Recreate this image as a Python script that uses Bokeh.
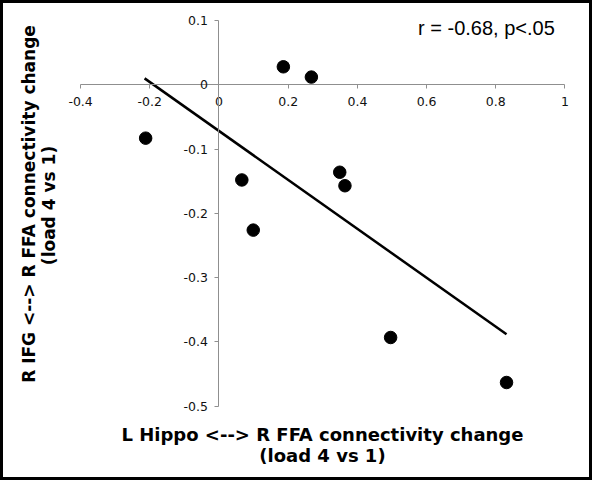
from bokeh.plotting import figure
from bokeh.models import LinearAxis, FixedTicker, CustomJSTickFormatter, Range1d
from bokeh.core.properties import value
from bokeh.embed import file_html
from bokeh.resources import INLINE
import math

# ---- data ----
hippo_ffa = [0.186, 0.267, 0.066, 0.099, 0.349, 0.364, -0.212, 0.496, 0.831]
ifg_ffa = [0.028, 0.012, -0.148, -0.226, -0.136, -0.157, -0.083, -0.393, -0.463]
fit_x = [-0.215, 0.831]
fit_y = [0.010, -0.388]
x_ticks = [-0.4, -0.2, 0, 0.2, 0.4, 0.6, 0.8, 1]
y_ticks = [-0.5, -0.4, -0.3, -0.2, -0.1, 0, 0.1]
stat_text = "r = -0.68, p<.05"
x_title = ["L Hippo <--> R FFA connectivity change", "(load 4 vs 1)"]
y_title = ["R IFG <--> R FFA connectivity change", "(load 4 vs 1)"]

W, H = 592, 480
p = figure(width=W, height=H, output_backend="svg", toolbar_location=None,
           x_axis_type=None, y_axis_type=None, min_border=0,
           x_range=Range1d(-0.6315, 1.0795), y_range=Range1d(-0.6154, 0.1311))
p.outline_line_color = "black"
p.outline_line_width = 5
p.background_fill_color = "white"

fmt = CustomJSTickFormatter(code="return String(+tick.toFixed(1));")
axis_col = "#8f8f8f"

xa = LinearAxis(fixed_location=0, bounds=(min(x_ticks), max(x_ticks)),
                ticker=FixedTicker(ticks=x_ticks, minor_ticks=[]), formatter=fmt)
ya = LinearAxis(fixed_location=0, bounds=(min(y_ticks), max(y_ticks)),
                ticker=FixedTicker(ticks=y_ticks, minor_ticks=[]), formatter=fmt)
for ax, st in ((xa, 8), (ya, 7)):
    ax.axis_line_color = axis_col
    ax.axis_line_width = 1
    ax.major_tick_line_color = axis_col
    ax.major_tick_out = 4
    ax.major_tick_in = 0
    ax.minor_tick_line_color = None
    ax.major_label_text_font = "DejaVu Sans"
    ax.major_label_text_font_size = "12.5px"
    ax.major_label_text_color = "#111111"
    ax.major_label_standoff = st
p.add_layout(xa, "below")
p.add_layout(ya, "left")

p.line(fit_x, fit_y, line_color="black", line_width=2.5)
p.scatter(hippo_ffa, ifg_ffa, size=12.5, fill_color="black", line_color="black")

p.text(x=[0.773], y=[0.0879], text=[stat_text], text_font=value("Liberation Sans"),
       text_font_size="20px", text_align="center", text_baseline="middle", text_color="black")

p.text(x=[0.299, 0.299], y=[-0.5434, -0.577], text=x_title, text_font=value("DejaVu Sans"),
       text_font_style="bold", text_font_size="18px", text_align="center",
       text_baseline="middle", text_color="black")
p.text(x=[-0.5486, -0.4899], y=[-0.1854, -0.1877], text=y_title, text_font=value("DejaVu Sans"),
       text_font_style="bold", text_font_size="17px", text_align="center",
       text_baseline="middle", text_color="black", angle=math.pi / 2)

open("out.html", "w").write(file_html(p, INLINE))
